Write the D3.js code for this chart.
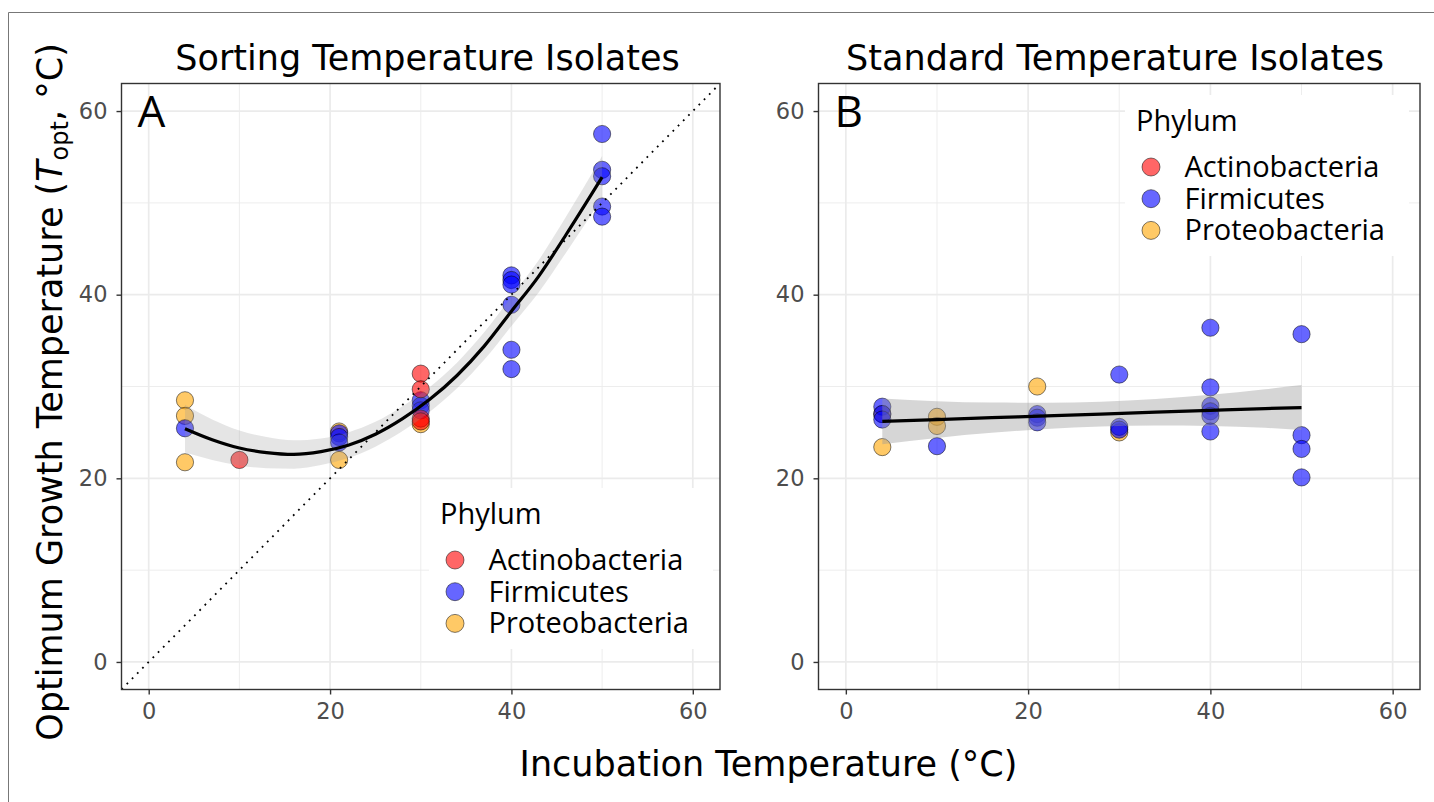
<!DOCTYPE html>
<html>
<head>
<meta charset="utf-8">
<script src="https://cdn.jsdelivr.net/npm/d3@7"></script>
<style>
  body { margin: 0; background: #fff; }
  svg { display: block; }
</style>
</head>
<body>
<svg id="chart" width="1434" height="802"></svg>
<script>
// phylum levels, colours and draw order
var phyla = ["Actinobacteria", "Firmicutes", "Proteobacteria"];
var phylumColors = ["#ff0000", "#0000ff", "#ffa500"];

var xTicks = [0, 20, 40, 60];
var yTicks = [0, 20, 40, 60];
var minorTicks = [10, 30, 50];

// panel A - sorting temperature isolates
var sortActinoX = [10, 30, 30, 30, 30];
var sortActinoY = [22.0, 31.4, 29.7, 26.5, 26.2];
var sortFirmX = [4, 21, 21, 21, 30, 30, 30, 40, 40, 40, 40, 40, 40, 50, 50, 50, 50, 50];
var sortFirmY = [25.45, 24.9, 24.5, 23.9, 28.5, 27.9, 27.4, 42.1, 41.6, 41.1, 38.9, 34.0, 31.9, 57.5, 53.6, 52.9, 49.6, 48.5];
var sortProteoX = [4, 4, 4, 21, 21, 30];
var sortProteoY = [28.5, 26.8, 21.75, 25.1, 22.0, 25.9];

// quadratic fit (value and half width of the band)
var sortFitX = [4, 7, 10, 13, 16, 19, 22, 25, 28, 31, 34, 37, 40, 43, 46, 50];
var sortFitY = [25.4, 24.2, 23.3, 22.8, 22.6, 22.9, 23.6, 24.8, 26.5, 28.6, 31.2, 34.4, 38.2, 42.0, 46.5, 52.8];
var sortFitSe = [2.6, 2.2, 1.9, 1.7, 1.55, 1.45, 1.4, 1.35, 1.35, 1.35, 1.4, 1.5, 1.6, 1.75, 1.95, 2.3];

// panel B - standard temperature isolates
var stdActinoX = [];
var stdActinoY = [];
var stdFirmX = [4, 4, 4, 10, 21, 21, 21, 30, 30, 30, 40, 40, 40, 40, 40, 40, 50, 50, 50, 50];
var stdFirmY = [27.8, 27.0, 26.4, 23.5, 27.0, 26.6, 26.1, 31.3, 25.6, 25.3, 36.4, 29.9, 27.9, 27.3, 26.8, 25.1, 35.7, 24.7, 23.2, 20.1];
var stdProteoX = [4, 4, 10, 10, 21, 30];
var stdProteoY = [27.0, 23.4, 26.7, 25.7, 30.0, 25.0];

// linear fit
var stdFitX = [4, 10, 16, 22, 28, 34, 40, 46, 50];
var stdFitY = [26.2, 26.4, 26.6, 26.8, 27.0, 27.2, 27.4, 27.6, 27.7];
var stdFitSe = [2.5, 2.0, 1.65, 1.42, 1.35, 1.45, 1.7, 2.1, 2.45];

var svg = d3.select("#chart");

// frame left over from the original figure
svg.append("path")
  .attr("d", "M8.5,802 V12.5 H1434")
  .attr("fill", "none")
  .attr("stroke", "#777")
  .attr("stroke-width", 1);

function zipPoints(phylum, xs, ys) {
  return xs.map(function (v, i) { return { phylum: phylum, x: v, y: ys[i] }; });
}

function zipFit(xs, ys, se) {
  return xs.map(function (v, i) { return { x: v, y: ys[i], se: se[i] }; });
}

function drawPanel(p) {
  var x = d3.scaleLinear().domain([-3, 63]).range([p.left, p.right]);
  var y = d3.scaleLinear().domain([-3, 63]).range([p.bottom, p.top]);
  var color = d3.scaleOrdinal().domain(phyla).range(phylumColors);

  var g = svg.append("g");

  svg.append("clipPath").attr("id", "clip-" + p.id)
    .append("rect")
    .attr("x", p.left).attr("y", p.top)
    .attr("width", p.right - p.left).attr("height", p.bottom - p.top);

  var plot = g.append("g").attr("clip-path", "url(#clip-" + p.id + ")");

  // grid lines
  plot.selectAll(".minor-x").data(minorTicks).join("line")
    .attr("x1", function (d) { return x(d); }).attr("x2", function (d) { return x(d); })
    .attr("y1", p.top).attr("y2", p.bottom)
    .attr("stroke", "#ebebeb").attr("stroke-width", 0.9);
  plot.selectAll(".minor-y").data(minorTicks).join("line")
    .attr("y1", function (d) { return y(d); }).attr("y2", function (d) { return y(d); })
    .attr("x1", p.left).attr("x2", p.right)
    .attr("stroke", "#ebebeb").attr("stroke-width", 0.9);
  plot.selectAll(".major-x").data(xTicks).join("line")
    .attr("x1", function (d) { return x(d); }).attr("x2", function (d) { return x(d); })
    .attr("y1", p.top).attr("y2", p.bottom)
    .attr("stroke", "#ebebeb").attr("stroke-width", 1.7);
  plot.selectAll(".major-y").data(yTicks).join("line")
    .attr("y1", function (d) { return y(d); }).attr("y2", function (d) { return y(d); })
    .attr("x1", p.left).attr("x2", p.right)
    .attr("stroke", "#ebebeb").attr("stroke-width", 1.7);

  // points
  plot.append("g").selectAll("circle").data(p.points).join("circle")
    .attr("cx", function (d) { return x(d.x); })
    .attr("cy", function (d) { return y(d.y); })
    .attr("r", 8.6)
    .attr("fill", function (d) { return color(d.phylum); })
    .attr("fill-opacity", 0.6)
    .attr("stroke", "#000")
    .attr("stroke-opacity", 0.5)
    .attr("stroke-width", 1);

  // confidence band and fitted line
  plot.append("path").datum(p.fit)
    .attr("fill", "#999")
    .attr("fill-opacity", p.bandOpacity)
    .attr("d", d3.area()
      .x(function (d) { return x(d.x); })
      .y0(function (d) { return y(d.y - d.se); })
      .y1(function (d) { return y(d.y + d.se); })
      .curve(d3.curveMonotoneX));

  plot.append("path").datum(p.fit)
    .attr("fill", "none")
    .attr("stroke", "#000")
    .attr("stroke-width", 3.2)
    .attr("d", d3.line()
      .x(function (d) { return x(d.x); })
      .y(function (d) { return y(d.y); })
      .curve(d3.curveMonotoneX));

  // 1:1 line
  if (p.diagonal) {
    plot.append("line")
      .attr("x1", x(-3)).attr("y1", y(-3))
      .attr("x2", x(63)).attr("y2", y(63))
      .attr("stroke", "#000")
      .attr("stroke-width", 1.8)
      .attr("stroke-dasharray", "1.8 5.6");
  }

  // legend
  var lg = g.append("g").attr("transform", "translate(" + p.legendX + "," + p.legendY + ")");
  lg.append("rect").attr("width", 284).attr("height", 161).attr("fill", "#fff");
  lg.append("text")
    .attr("x", 11).attr("y", 35.5)
    .style("font-family", "'Open Sans', sans-serif")
    .style("font-size", "29px")
    .text("Phylum");
  phyla.forEach(function (name, i) {
    lg.append("circle")
      .attr("cx", 26).attr("cy", 72 + i * 31.7).attr("r", 9)
      .attr("fill", color(name)).attr("fill-opacity", 0.6)
      .attr("stroke", "#000").attr("stroke-opacity", 0.5).attr("stroke-width", 1);
    lg.append("text")
      .attr("x", 59.5).attr("y", 82 + i * 31.7)
      .style("font-family", "'Open Sans', sans-serif")
      .style("font-size", "29px")
      .text(name);
  });

  // panel border
  g.append("rect")
    .attr("x", p.left).attr("y", p.top)
    .attr("width", p.right - p.left).attr("height", p.bottom - p.top)
    .attr("fill", "none").attr("stroke", "#333").attr("stroke-width", 1.4);

  // axes
  var ax = g.append("g").attr("transform", "translate(0," + p.bottom + ")")
    .call(d3.axisBottom(x).tickValues(xTicks).tickSize(5).tickPadding(9));
  var ay = g.append("g").attr("transform", "translate(" + p.left + ",0)")
    .call(d3.axisLeft(y).tickValues(yTicks).tickSize(5).tickPadding(9));
  [ax, ay].forEach(function (a) {
    a.select(".domain").remove();
    a.selectAll("line").attr("stroke", "#333").attr("stroke-width", 1.4);
    a.selectAll("text")
      .attr("fill", "#4d4d4d")
      .style("font-family", "'DejaVu Sans', sans-serif")
      .style("font-size", "22.5px");
  });

  // panel letter and title
  g.append("text")
    .attr("x", p.left + 16).attr("y", 126.5)
    .style("font-family", "'Open Sans', sans-serif")
    .style("font-size", "44px")
    .text(p.letter);
  g.append("text")
    .attr("x", p.titleX).attr("y", 70)
    .attr("text-anchor", "middle")
    .style("font-family", "'DejaVu Sans', sans-serif")
    .style("font-size", "35px")
    .text(p.title);
}

drawPanel({
  id: "a", letter: "A", title: "Sorting Temperature Isolates", titleX: 427.5,
  left: 121.5, right: 720, top: 83.5, bottom: 689.5,
  points: zipPoints("Proteobacteria", sortProteoX, sortProteoY)
    .concat(zipPoints("Firmicutes", sortFirmX, sortFirmY))
    .concat(zipPoints("Actinobacteria", sortActinoX, sortActinoY)),
  fit: zipFit(sortFitX, sortFitY, sortFitSe),
  bandOpacity: 0.25, diagonal: true,
  legendX: 429, legendY: 488
});

drawPanel({
  id: "b", letter: "B", title: "Standard Temperature Isolates", titleX: 1115,
  left: 818.5, right: 1420, top: 83.5, bottom: 689.5,
  points: zipPoints("Proteobacteria", stdProteoX, stdProteoY)
    .concat(zipPoints("Firmicutes", stdFirmX, stdFirmY))
    .concat(zipPoints("Actinobacteria", stdActinoX, stdActinoY)),
  fit: zipFit(stdFitX, stdFitY, stdFitSe),
  bandOpacity: 0.4, diagonal: false,
  legendX: 1125, legendY: 95
});

// shared axis titles
svg.append("text")
  .attr("x", 768.5).attr("y", 776)
  .attr("text-anchor", "middle")
  .style("font-family", "'DejaVu Sans', sans-serif")
  .style("font-size", "35px")
  .text("Incubation Temperature (°C)");

var yTitle = svg.append("text")
  .attr("transform", "translate(62,392) rotate(-90)")
  .attr("text-anchor", "middle")
  .style("font-family", "'DejaVu Sans', sans-serif")
  .style("font-size", "35px");
yTitle.append("tspan").text("Optimum Growth Temperature (");
yTitle.append("tspan").style("font-style", "italic").text("T");
yTitle.append("tspan").attr("dy", 6).style("font-size", "24px").text("opt");
yTitle.append("tspan").attr("dy", -6).text(", °C)");
</script>
</body>
</html>
